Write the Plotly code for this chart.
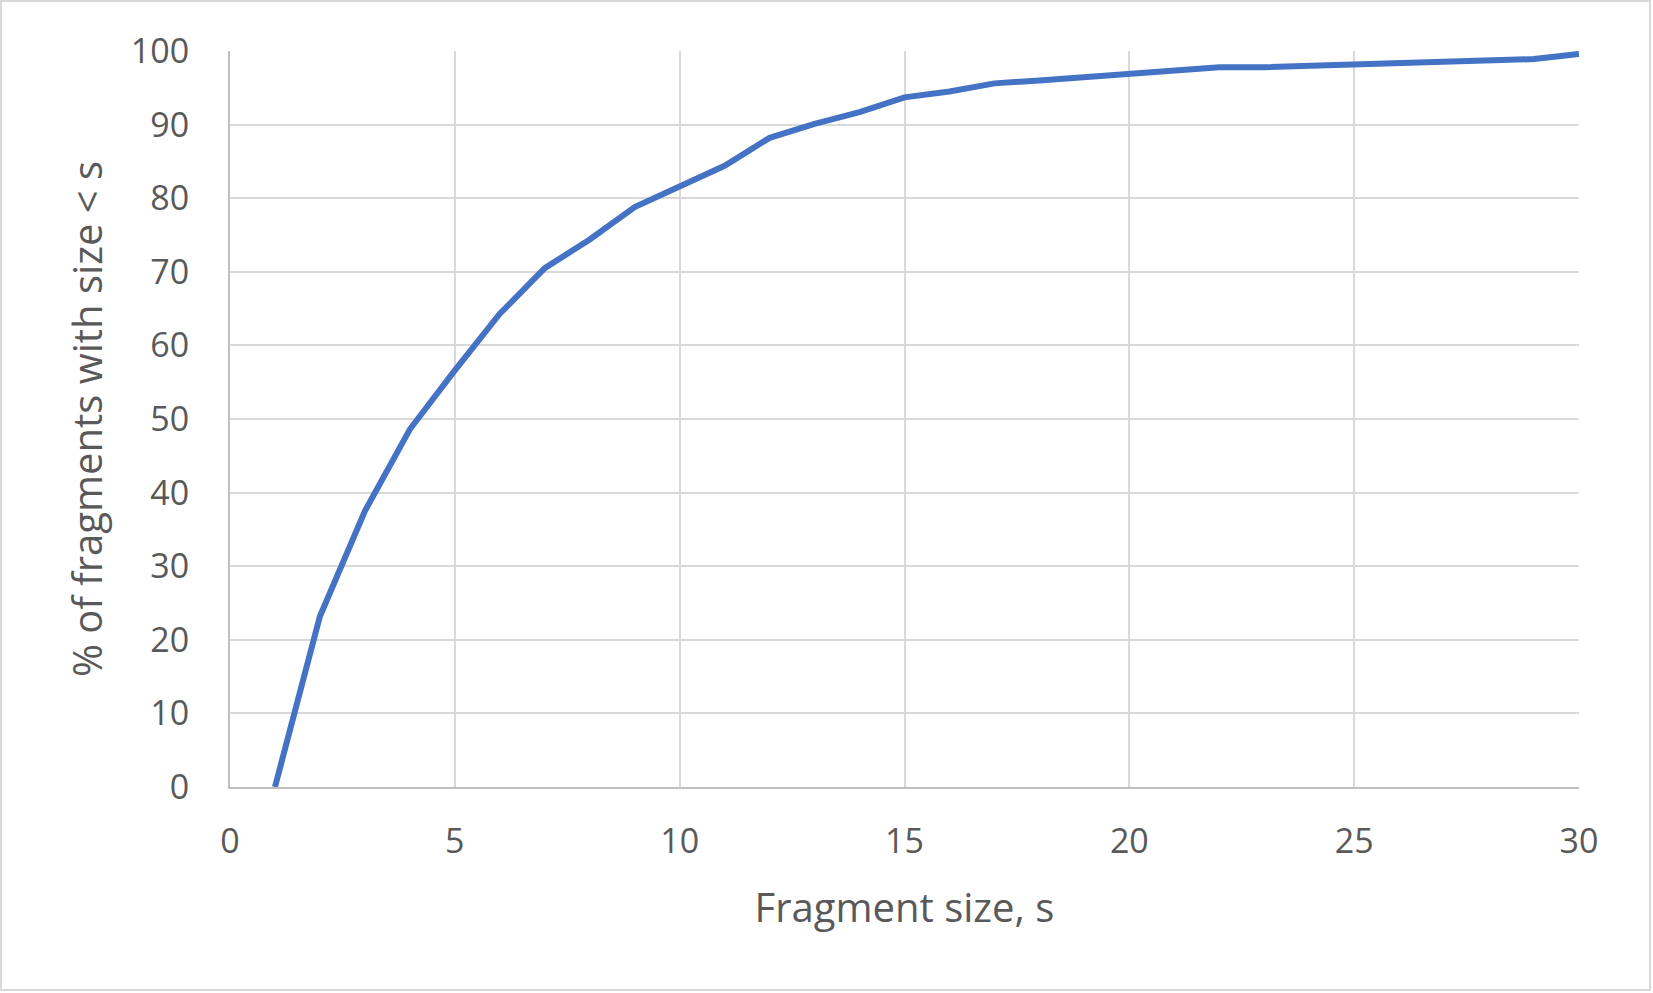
import plotly.graph_objects as go

fragment_size = list(range(1, 31))
pct_below = [0.0, 23.2, 37.5, 48.6, 56.6, 64.3, 70.5, 74.4, 78.8, 81.6,
             84.4, 88.2, 90.1, 91.7, 93.7, 94.5, 95.6, 96.0, 96.4, 96.9,
             97.2, 97.8, 97.8, 98.0, 98.3, 98.5, 98.6, 98.9, 98.9, 99.6]

x_title = "Fragment size, s"
y_title = "% of fragments with size < s"

W, H = 1653, 993
L, R, T, B = 230, 74, 51, 206
pw, ph = W - L - R, H - T - B

fig = go.Figure()
fig.add_trace(go.Scatter(
    x=fragment_size, y=pct_below, mode="lines",
    line=dict(color="#4472C4", width=6),
    showlegend=False, hoverinfo="x+y",
))

font_color = "#595959"
fig.update_layout(
    width=W, height=H,
    margin=dict(l=L, r=R, t=T, b=B),
    paper_bgcolor="white", plot_bgcolor="white",
    font=dict(family="Open Sans", color=font_color),
    xaxis=dict(
        range=[0, 30], tick0=0, dtick=5, tickmode="linear",
        showgrid=True, gridcolor="#d9d9d9", gridwidth=2,
        showline=True, linecolor="#bfbfbf", linewidth=2,
        zeroline=False, ticks="", ticklabelstandoff=23,
        tickfont=dict(size=34, color=font_color),
        title=dict(text=x_title, font=dict(size=40, color=font_color), standoff=32),
    ),
    yaxis=dict(
        range=[0, 100], tick0=0, dtick=10, tickmode="linear",
        showgrid=True, gridcolor="#d9d9d9", gridwidth=2,
        showline=True, linecolor="#bfbfbf", linewidth=2,
        zeroline=False, ticks="", ticklabelstandoff=32,
        tickfont=dict(size=34, color=font_color),
        title=dict(text=y_title, font=dict(size=40, color=font_color), standoff=16),
    ),
)

# outer chart-area border
fig.add_shape(
    type="rect", xref="paper", yref="paper",
    x0=(-L + 1) / pw, x1=(pw + R - 3) / pw,
    y0=(-B + 3) / ph, y1=(ph + T - 1) / ph,
    line=dict(color="#d9d9d9", width=2), fillcolor="rgba(0,0,0,0)",
    layer="below",
)

fig.write_html(
    "out.html",
    config={"displayModeBar": False},
    post_script="document.body.style.margin='0';document.body.style.overflow='hidden';",
)
